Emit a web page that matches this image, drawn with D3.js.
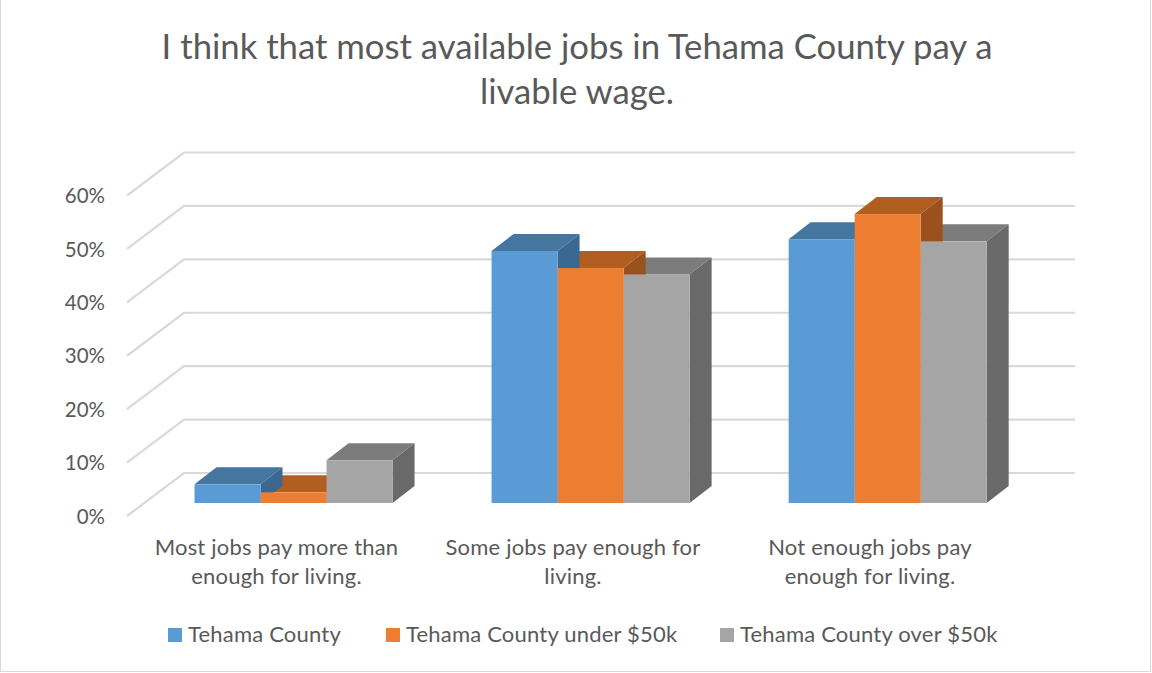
<!DOCTYPE html>
<html><head><meta charset="utf-8">
<script src="https://cdn.jsdelivr.net/npm/d3@7"></script>
<style>html,body{margin:0;padding:0;background:#fff}svg{display:block}text{font-family:Lato,sans-serif;fill:#595959}</style>
</head><body><svg id="c" width="1152" height="673"></svg>
<script>
const titleLines = ["I think that most available jobs in Tehama County pay a", "livable wage."];
const categories = [["Most jobs pay more than","enough for living."],["Some jobs pay enough for","living."],["Not enough jobs pay","enough for living."]];
const seriesNames = ["Tehama County","Tehama County under $50k","Tehama County over $50k"];
const tehama = [3.5, 47.2, 49.4];
const under50 = [2, 44, 54.1];
const over50 = [8, 42.8, 49];
const seriesValues = [tehama, under50, over50];
const frontColors = ["#5B9BD5","#ED7D31","#A5A5A5"];
const topColors = ["#44769F","#B35E21","#7C7C7C"];
const sideColors = ["#3A6891","#9A511E","#696969"];
const yTicks = [0,10,20,30,40,50,60];

const W=1152,H=673;
const svg=d3.select("#c");
svg.append("rect").attr("x",0.5).attr("y",-1).attr("width",W-2).attr("height",H-0.5).attr("fill","#fff").attr("stroke","#d9d9d9");

const depth={dx:22,dy:-17};
const wall={dx:57,dy:-43};
const yFront=d3.scaleLinear().domain([0,60]).range([516,195.5]);
const yBar=d3.scaleLinear().domain([0,60]).range([503,182.6]);
const xCat=d3.scaleBand().domain(d3.range(3)).range([145,1036.2]).paddingInner(1/3).paddingOuter(1/6);
const xSer=d3.scaleBand().domain(d3.range(3)).range([0,xCat.bandwidth()]);

// walls
const grid=svg.append("g").attr("fill","none").attr("stroke","#d9d9d9").attr("stroke-width",2.2);
yTicks.forEach(t=>{
  const y=yFront(t);
  grid.append("path").attr("d",d3.line()([[127,y],[127+wall.dx,y+wall.dy],[1075,y+wall.dy]]));
});

// bars
const pts=a=>a.map(p=>p.join(",")).join(" ");
const g=svg.append("g");
d3.range(2,-1,-1).forEach(s=>{
  d3.range(3).forEach(c=>{
    const x0=xCat(c)+xSer(s),x1=x0+xSer.bandwidth(),y0=yBar(0),y1=yBar(seriesValues[s][c]);
    g.append("polygon").attr("fill",topColors[s]).attr("points",pts([[x0,y1],[x0+depth.dx,y1+depth.dy],[x1+depth.dx,y1+depth.dy],[x1,y1]]));
    g.append("polygon").attr("fill",sideColors[s]).attr("points",pts([[x1,y1],[x1+depth.dx,y1+depth.dy],[x1+depth.dx,y0+depth.dy],[x1,y0]]));
  });
});
d3.range(2,-1,-1).forEach(s=>{
  d3.range(3).forEach(c=>{
    const x0=xCat(c)+xSer(s),y0=yBar(0),y1=yBar(seriesValues[s][c]);
    g.append("rect").attr("x",x0).attr("y",y1).attr("width",xSer.bandwidth()).attr("height",y0-y1).attr("fill",frontColors[s]);
  });
});

// y labels
svg.append("g").selectAll("text").data(yTicks).join("text")
  .attr("x",105).attr("y",d=>yFront(d)+0.5).attr("dy","0.35em").attr("text-anchor","end")
  .attr("font-size",20.5).text(d=>d+"%");

// category labels
const catCenters=[276.5,573,870];
categories.forEach((lines,c)=>{
  lines.forEach((l,i)=>{
    svg.append("text").attr("x",catCenters[c]).attr("y",555+i*29).attr("text-anchor","middle").attr("font-size",22).attr("letter-spacing",0.2).text(l);
  });
});

// title
titleLines.forEach((l,i)=>{
  svg.append("text").attr("x",577).attr("y",59+i*45).attr("text-anchor","middle").attr("font-size",34.7).text(l);
});

// legend
const legendX=[168,386,720];
seriesNames.forEach((n,i)=>{
  svg.append("rect").attr("x",legendX[i]).attr("y",628).attr("width",14).attr("height",14).attr("fill",frontColors[i]);
  svg.append("text").attr("x",legendX[i]+20).attr("y",642).attr("font-size",22).attr("letter-spacing",0.2).text(n);
});
</script></body></html>
